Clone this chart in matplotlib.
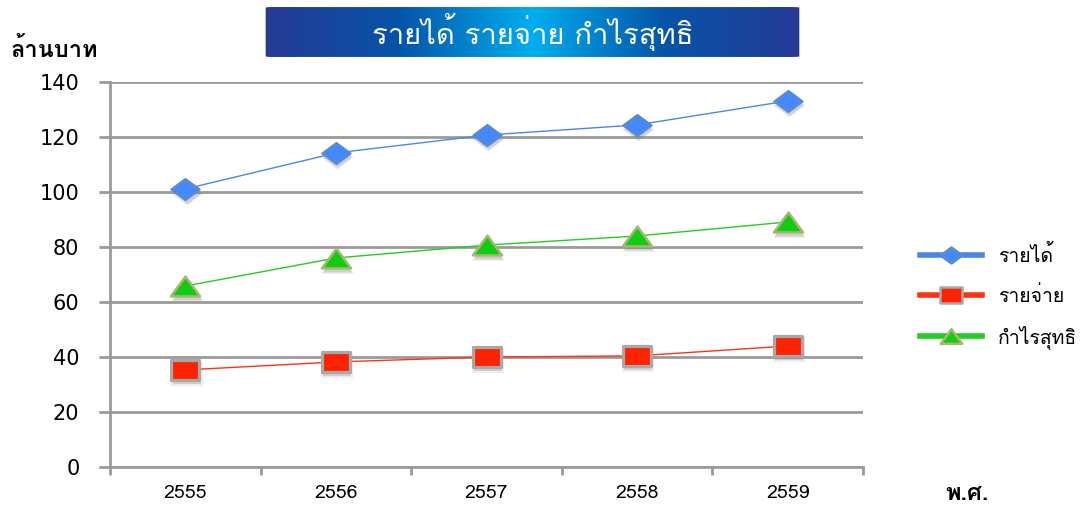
import numpy as np
import matplotlib
matplotlib.use("Agg")
import matplotlib.pyplot as plt
from matplotlib import font_manager, ft2font
from matplotlib.lines import Line2D
from matplotlib.patches import FancyBboxPatch
from matplotlib.path import Path
from matplotlib.colors import LinearSegmentedColormap
from matplotlib.transforms import ScaledTranslation

# data (million baht)
years = ["2555", "2556", "2557", "2558", "2559"]
revenue = [101.1, 114.2, 120.7, 124.4, 133.1]
expense = [35.3, 38.2, 40.0, 40.4, 44.0]
profit = [65.8, 76.0, 80.7, 84.0, 89.1]
series_names = ["รายได้", "รายจ่าย", "กำไรสุทธิ"]
title_text = "รายได้ รายจ่าย กำไรสุทธิ"
ylabel_text = "ล้านบาท"
xlabel_text = "พ.ศ."


def find_thai_font():
    # first installed font that has Thai glyphs
    for f in font_manager.fontManager.ttflist:
        try:
            if ft2font.FT2Font(f.fname).get_char_index(0x0E01) != 0:
                return f.name
        except Exception:
            pass
    return "DejaVu Sans"


thai = find_thai_font()
plt.rcParams['font.family'] = [thai, 'DejaVu Sans']

# flattened markers like the excel ones
wide_diamond = Path([(-1, 0), (0, 0.74), (1, 0), (0, -0.74), (-1, 0)], closed=True)
wide_square = Path([(-1, -0.74), (1, -0.74), (1, 0.74), (-1, 0.74), (-1, -0.74)], closed=True)
wide_tri = Path([(-1, -0.68), (0, 0.68), (1, -0.68), (-1, -0.68)], closed=True)

fig = plt.figure(figsize=(10.82, 5.07), dpi=100)
ax = fig.add_axes([110 / 1082, 1 - 467 / 507, 753 / 1082, 385 / 507])

x = np.arange(len(years))
grey = "#9a9a9a"
styles = [
    dict(color="#4a86e8", marker=wide_diamond, ms=20.5, mfc="#4488ff", mec="#5a8ccc", mew=1.5),
    dict(color="#ff3311", marker=wide_square, ms=19.5, mfc="#ff2200", mec="#a8a8a8", mew=2.3),
    dict(color="#22cc22", marker=wide_tri, ms=21, mfc="#11cc11", mec="#a4b870", mew=1.8),
]
shift = ax.transData + ScaledTranslation(1 / 72, -3 / 72, fig.dpi_scale_trans)
for vals, st in zip([revenue, expense, profit], styles):
    # soft drop shadow under the markers
    ax.plot(x, vals, ls="none", marker=st["marker"], ms=st["ms"] + 3, color="#888888",
            alpha=0.15, mew=0, transform=shift, zorder=2)
    ax.plot(x, vals, ls="none", marker=st["marker"], ms=st["ms"], color="#777777",
            alpha=0.25, mew=0, transform=shift, zorder=2)
    ax.plot(x, vals, lw=1, zorder=3, **st)

ax.set_xlim(-0.5, 4.5)
ax.set_ylim(0, 140)
ax.set_yticks(np.arange(0, 141, 20))
ax.yaxis.grid(True, color=grey, lw=2)
ax.set_axisbelow(True)
ax.set_xticks(x)
ax.set_xticklabels(years, fontsize=14)
ax.set_xticks(np.arange(-0.5, 4.6, 1), minor=True)
ax.tick_params(axis="x", which="major", length=0, pad=12)
ax.tick_params(axis="x", which="minor", length=6, width=2, color=grey)
ax.tick_params(axis="y", length=8, width=2, color=grey, pad=14)
for lab in ax.get_yticklabels():
    lab.set_fontfamily("DejaVu Sans")
    lab.set_fontsize(15)
for s in ["top", "right"]:
    ax.spines[s].set_visible(False)
for s in ["left", "bottom"]:
    ax.spines[s].set_color(grey)
    ax.spines[s].set_linewidth(2)

# legend
handles = [Line2D([], [], lw=4, **st) for st in styles]
for h in handles:
    h.set_markersize(15.5)
    h.set_markeredgewidth(1.8)
fig.legend(handles, series_names, loc="center left", bbox_to_anchor=(920 / 1082, 1 - 297 / 507),
           frameon=False, fontsize=14, handlelength=3.2, labelspacing=1.0,
           borderaxespad=0, borderpad=0, handletextpad=0.8)

fig.text(10 / 1082, 1 - 50 / 507, ylabel_text, fontsize=17, fontweight="bold", va="center")
fig.text(945 / 1082, 1 - 493 / 507, xlabel_text, fontsize=17, fontweight="bold", va="center")

# title box with gradient
tax = fig.add_axes([263 / 1082, 1 - 58 / 507, 539 / 1082, 52 / 507])
tax.set_axis_off()
cmap = LinearSegmentedColormap.from_list("tb", ["#273a94", "#0653a8", "#00aeef", "#0653a8", "#273a94"])
grad = np.linspace(0, 1, 256).reshape(1, -1)
im = tax.imshow(grad, cmap=cmap, aspect="auto", extent=(0, 1, 0, 1))
box = FancyBboxPatch((0.005, 0.02), 0.99, 0.96, boxstyle="round,pad=0,rounding_size=0.012",
                     transform=tax.transAxes, facecolor="none", edgecolor="none")
tax.add_patch(box)
im.set_clip_path(box)
tax.set_xlim(0, 1)
tax.set_ylim(0, 1)
tax.text(0.5, 0.5, title_text, color="white", fontsize=21, ha="center", va="center")

fig.savefig("out.png", dpi=100)
